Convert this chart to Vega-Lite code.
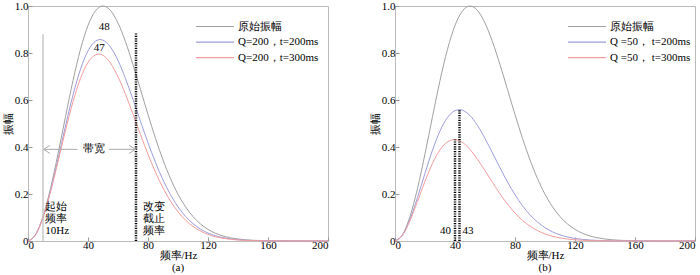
{
  "$schema": "https://vega.github.io/schema/vega-lite/v6.json",
  "padding": {"left": 1, "top": -1, "right": 0, "bottom": 0},
  "spacing": 37,
  "config": {
    "font": "Liberation Serif",
    "view": {"stroke": "#bbbbbb", "strokeWidth": 1},
    "axis": {
      "domain": false, "grid": false, "ticks": true, "tickSize": -4, "tickColor": "#999999",
      "labelFont": "Liberation Serif", "labelFontSize": 11, "labelColor": "#000000",
      "titleFont": "Liberation Serif", "titleFontSize": 11, "titleFontWeight": "normal", "titleColor": "#000000"
    },
    "axisX": {"labelPadding": 2, "titlePadding": -1},
    "axisY": {"labelPadding": 4, "titlePadding": 1},
    "legend": {
      "orient": "none", "title": null, "symbolType": "stroke", "symbolSize": 1444, "symbolStrokeWidth": 1.2,
      "labelFont": "Liberation Serif", "labelFontSize": 11, "labelColor": "#000000", "clipHeight": 13, "labelOffset": 3, "rowPadding": 2.6
    },
    "title": {"font": "Liberation Serif", "fontSize": 11, "fontWeight": "normal", "color": "#000000"}
  },
  "datasets": {
    "curves": [
      {"s":"原始振幅","f":0,"a":0},{"s":"原始振幅","f":5,"a":0.0269},{"s":"原始振幅","f":10,"a":0.1045},{"s":"原始振幅","f":15,"a":0.2236},{"s":"原始振幅","f":20,"a":0.3706},{"s":"原始振幅","f":25,"a":0.5293},{"s":"原始振幅","f":30,"a":0.6827},{"s":"原始振幅","f":35,"a":0.816},{"s":"原始振幅","f":40,"a":0.9173},{"s":"原始振幅","f":45,"a":0.9795},{"s":"原始振幅","f":50,"a":1},{"s":"原始振幅","f":55,"a":0.9808},{"s":"原始振幅","f":60,"a":0.9274},{"s":"原始振幅","f":65,"a":0.8477},{"s":"原始振幅","f":70,"a":0.7505},{"s":"原始振幅","f":75,"a":0.6446},{"s":"原始振幅","f":80,"a":0.5379},{"s":"原始振幅","f":85,"a":0.4366},{"s":"原始振幅","f":90,"a":0.3449},{"s":"原始振幅","f":95,"a":0.2655},{"s":"原始振幅","f":100,"a":0.1991},{"s":"原始振幅","f":105,"a":0.1457},{"s":"原始振幅","f":110,"a":0.104},{"s":"原始振幅","f":115,"a":0.0725},{"s":"原始振幅","f":120,"a":0.0493},{"s":"原始振幅","f":125,"a":0.0328},{"s":"原始振幅","f":130,"a":0.0213},{"s":"原始振幅","f":135,"a":0.0135},{"s":"原始振幅","f":140,"a":0.0084},{"s":"原始振幅","f":145,"a":0.0051},{"s":"原始振幅","f":150,"a":0.003},{"s":"原始振幅","f":160,"a":0.001},{"s":"原始振幅","f":170,"a":0.0003},{"s":"原始振幅","f":180,"a":0.0001},{"s":"原始振幅","f":190,"a":0},{"s":"原始振幅","f":200,"a":0},
      {"s":"Q=200，t=200ms","f":0,"a":0},{"s":"Q=200，t=200ms","f":5,"a":0.0265},{"s":"Q=200，t=200ms","f":10,"a":0.1012},{"s":"Q=200，t=200ms","f":15,"a":0.2133},{"s":"Q=200，t=200ms","f":20,"a":0.348},{"s":"Q=200，t=200ms","f":25,"a":0.4893},{"s":"Q=200，t=200ms","f":30,"a":0.6213},{"s":"Q=200，t=200ms","f":35,"a":0.731},{"s":"Q=200，t=200ms","f":40,"a":0.809},{"s":"Q=200，t=200ms","f":45,"a":0.8504},{"s":"Q=200，t=200ms","f":47,"a":0.8564},{"s":"Q=200，t=200ms","f":48,"a":0.8572},{"s":"Q=200，t=200ms","f":50,"a":0.8546},{"s":"Q=200，t=200ms","f":55,"a":0.8252},{"s":"Q=200，t=200ms","f":60,"a":0.7681},{"s":"Q=200，t=200ms","f":65,"a":0.6911},{"s":"Q=200，t=200ms","f":70,"a":0.6023},{"s":"Q=200，t=200ms","f":75,"a":0.5093},{"s":"Q=200，t=200ms","f":80,"a":0.4184},{"s":"Q=200，t=200ms","f":85,"a":0.3343},{"s":"Q=200，t=200ms","f":90,"a":0.26},{"s":"Q=200，t=200ms","f":95,"a":0.197},{"s":"Q=200，t=200ms","f":100,"a":0.1455},{"s":"Q=200，t=200ms","f":105,"a":0.1048},{"s":"Q=200，t=200ms","f":110,"a":0.0736},{"s":"Q=200，t=200ms","f":115,"a":0.0505},{"s":"Q=200，t=200ms","f":120,"a":0.0338},{"s":"Q=200，t=200ms","f":125,"a":0.0221},{"s":"Q=200，t=200ms","f":130,"a":0.0142},{"s":"Q=200，t=200ms","f":135,"a":0.0089},{"s":"Q=200，t=200ms","f":140,"a":0.0054},{"s":"Q=200，t=200ms","f":145,"a":0.0032},{"s":"Q=200，t=200ms","f":150,"a":0.0019},{"s":"Q=200，t=200ms","f":160,"a":0.0006},{"s":"Q=200，t=200ms","f":170,"a":0.0002},{"s":"Q=200，t=200ms","f":180,"a":0.0001},{"s":"Q=200，t=200ms","f":190,"a":0},{"s":"Q=200，t=200ms","f":200,"a":0},
      {"s":"Q=200，t=300ms","f":0,"a":0},{"s":"Q=200，t=300ms","f":5,"a":0.0263},{"s":"Q=200，t=300ms","f":10,"a":0.0997},{"s":"Q=200，t=300ms","f":15,"a":0.2083},{"s":"Q=200，t=300ms","f":20,"a":0.3373},{"s":"Q=200，t=300ms","f":25,"a":0.4704},{"s":"Q=200，t=300ms","f":30,"a":0.5927},{"s":"Q=200，t=300ms","f":35,"a":0.6919},{"s":"Q=200，t=300ms","f":40,"a":0.7597},{"s":"Q=200，t=300ms","f":45,"a":0.7923},{"s":"Q=200，t=300ms","f":47,"a":0.7955},{"s":"Q=200，t=300ms","f":48,"a":0.795},{"s":"Q=200，t=300ms","f":50,"a":0.7901},{"s":"Q=200，t=300ms","f":55,"a":0.7569},{"s":"Q=200，t=300ms","f":60,"a":0.699},{"s":"Q=200，t=300ms","f":65,"a":0.624},{"s":"Q=200，t=300ms","f":70,"a":0.5396},{"s":"Q=200，t=300ms","f":75,"a":0.4527},{"s":"Q=200，t=300ms","f":80,"a":0.369},{"s":"Q=200，t=300ms","f":85,"a":0.2925},{"s":"Q=200，t=300ms","f":90,"a":0.2257},{"s":"Q=200，t=300ms","f":95,"a":0.1697},{"s":"Q=200，t=300ms","f":100,"a":0.1243},{"s":"Q=200，t=300ms","f":105,"a":0.0888},{"s":"Q=200，t=300ms","f":110,"a":0.062},{"s":"Q=200，t=300ms","f":115,"a":0.0422},{"s":"Q=200，t=300ms","f":120,"a":0.028},{"s":"Q=200，t=300ms","f":125,"a":0.0182},{"s":"Q=200，t=300ms","f":130,"a":0.0115},{"s":"Q=200，t=300ms","f":135,"a":0.0072},{"s":"Q=200，t=300ms","f":140,"a":0.0043},{"s":"Q=200，t=300ms","f":145,"a":0.0026},{"s":"Q=200，t=300ms","f":150,"a":0.0015},{"s":"Q=200，t=300ms","f":160,"a":0.0005},{"s":"Q=200，t=300ms","f":170,"a":0.0001},{"s":"Q=200，t=300ms","f":180,"a":0},{"s":"Q=200，t=300ms","f":190,"a":0},{"s":"Q=200，t=300ms","f":200,"a":0},
      {"s":"Q =50， t=200ms","f":0,"a":0},{"s":"Q =50， t=200ms","f":5,"a":0.0253},{"s":"Q =50， t=200ms","f":10,"a":0.0921},{"s":"Q =50， t=200ms","f":15,"a":0.1852},{"s":"Q =50， t=200ms","f":20,"a":0.2882},{"s":"Q =50， t=200ms","f":25,"a":0.3866},{"s":"Q =50， t=200ms","f":30,"a":0.4683},{"s":"Q =50， t=200ms","f":35,"a":0.5256},{"s":"Q =50， t=200ms","f":40,"a":0.5549},{"s":"Q =50， t=200ms","f":43,"a":0.559},{"s":"Q =50， t=200ms","f":45,"a":0.5564},{"s":"Q =50， t=200ms","f":50,"a":0.5335},{"s":"Q =50， t=200ms","f":55,"a":0.4914},{"s":"Q =50， t=200ms","f":60,"a":0.4363},{"s":"Q =50， t=200ms","f":65,"a":0.3745},{"s":"Q =50， t=200ms","f":70,"a":0.3114},{"s":"Q =50， t=200ms","f":75,"a":0.2512},{"s":"Q =50， t=200ms","f":80,"a":0.1969},{"s":"Q =50， t=200ms","f":85,"a":0.15},{"s":"Q =50， t=200ms","f":90,"a":0.1113},{"s":"Q =50， t=200ms","f":95,"a":0.0805},{"s":"Q =50， t=200ms","f":100,"a":0.0567},{"s":"Q =50， t=200ms","f":105,"a":0.0389},{"s":"Q =50， t=200ms","f":110,"a":0.0261},{"s":"Q =50， t=200ms","f":115,"a":0.0171},{"s":"Q =50， t=200ms","f":120,"a":0.0109},{"s":"Q =50， t=200ms","f":125,"a":0.0068},{"s":"Q =50， t=200ms","f":130,"a":0.0042},{"s":"Q =50， t=200ms","f":135,"a":0.0025},{"s":"Q =50， t=200ms","f":140,"a":0.0014},{"s":"Q =50， t=200ms","f":145,"a":0.0008},{"s":"Q =50， t=200ms","f":150,"a":0.0005},{"s":"Q =50， t=200ms","f":160,"a":0.0001},{"s":"Q =50， t=200ms","f":170,"a":0},{"s":"Q =50， t=200ms","f":180,"a":0},{"s":"Q =50， t=200ms","f":190,"a":0},{"s":"Q =50， t=200ms","f":200,"a":0},
      {"s":"Q =50， t=300ms","f":0,"a":0},{"s":"Q =50， t=300ms","f":5,"a":0.0245},{"s":"Q =50， t=300ms","f":10,"a":0.0865},{"s":"Q =50， t=300ms","f":15,"a":0.1685},{"s":"Q =50， t=300ms","f":20,"a":0.2542},{"s":"Q =50， t=300ms","f":25,"a":0.3304},{"s":"Q =50， t=300ms","f":30,"a":0.3878},{"s":"Q =50， t=300ms","f":35,"a":0.4219},{"s":"Q =50， t=300ms","f":40,"a":0.4316},{"s":"Q =50， t=300ms","f":43,"a":0.4266},{"s":"Q =50， t=300ms","f":45,"a":0.4194},{"s":"Q =50， t=300ms","f":50,"a":0.3897},{"s":"Q =50， t=300ms","f":55,"a":0.3478},{"s":"Q =50， t=300ms","f":60,"a":0.2993},{"s":"Q =50， t=300ms","f":65,"a":0.249},{"s":"Q =50， t=300ms","f":70,"a":0.2006},{"s":"Q =50， t=300ms","f":75,"a":0.1568},{"s":"Q =50， t=300ms","f":80,"a":0.1191},{"s":"Q =50， t=300ms","f":85,"a":0.0879},{"s":"Q =50， t=300ms","f":90,"a":0.0632},{"s":"Q =50， t=300ms","f":95,"a":0.0443},{"s":"Q =50， t=300ms","f":100,"a":0.0302},{"s":"Q =50， t=300ms","f":105,"a":0.0201},{"s":"Q =50， t=300ms","f":110,"a":0.0131},{"s":"Q =50， t=300ms","f":115,"a":0.0083},{"s":"Q =50， t=300ms","f":120,"a":0.0051},{"s":"Q =50， t=300ms","f":125,"a":0.0031},{"s":"Q =50， t=300ms","f":130,"a":0.0018},{"s":"Q =50， t=300ms","f":135,"a":0.0011},{"s":"Q =50， t=300ms","f":140,"a":0.0006},{"s":"Q =50， t=300ms","f":145,"a":0.0003},{"s":"Q =50， t=300ms","f":150,"a":0.0002},{"s":"Q =50， t=300ms","f":160,"a":0},{"s":"Q =50， t=300ms","f":170,"a":0},{"s":"Q =50， t=300ms","f":180,"a":0},{"s":"Q =50， t=300ms","f":190,"a":0},{"s":"Q =50， t=300ms","f":200,"a":0}
    ],
    "greyRule": [{"f": 10, "a": 0, "a2": 0.88}],
    "dotA": [{"f": 72, "a": 0, "a2": 0.885}],
    "dotB": [{"f": 40, "a": 0, "a2": 0.432}, {"f": 43, "a": 0, "a2": 0.56}],
    "bandLines": [{"f": 10.5, "f2": 33, "a": 0.39}, {"f": 54, "f2": 72, "a": 0.39}],
    "arrowHeads": [{"f": 10.5, "a": 0.39, "dir": "L"}, {"f": 71.5, "a": 0.39, "dir": "R"}],
    "peakLabels": [{"f": 50.9, "a": 0.911, "t": "48"}, {"f": 47.5, "a": 0.823, "t": "47"}],
    "midLabel": [{"f": 44.3, "a": 0.39, "t": "带宽"}],
    "blockLabels": [{"f": 11.5, "a": 0.17, "t": "起始\n频率\n10Hz"}, {"f": 76.5, "a": 0.172, "t": "改变\n截止\n频率"}],
    "labLeft": [{"f": 37.3, "a": 0.043, "t": "40"}],
    "labRight": [{"f": 45, "a": 0.043, "t": "43"}]
  },
  "resolve": {"scale": {"color": "independent"}, "legend": {"color": "independent"}},
  "hconcat": [
    {
      "width": 300, "height": 235,
      "title": {"text": "(a)", "orient": "bottom", "offset": 1.5},
      "layer": [
        {
          "data": {"name": "curves"},
          "transform": [{"filter": {"field": "s", "oneOf": ["原始振幅", "Q=200，t=200ms", "Q=200，t=300ms"]}}],
          "mark": {"type": "line", "interpolate": "monotone", "strokeWidth": 1},
          "encoding": {
            "x": {"field": "f", "type": "quantitative", "scale": {"domain": [0, 200], "nice": false},
                  "axis": {"title": "频率/Hz", "values": [0,20,40,60,80,100,120,140,160,180,200], "labelExpr": "datum.value % 40 == 0 ? datum.label : ''"}},
            "y": {"field": "a", "type": "quantitative", "scale": {"domain": [0, 1], "nice": false},
                  "axis": {"title": "振幅", "values": [0,0.1,0.2,0.3,0.4,0.5,0.6,0.7,0.8,0.9,1.0], "labelExpr": "datum.value == 0 ? '0' : (round(datum.value*10) % 2 == 0 ? format(datum.value, '.1f') : '')"}},
            "color": {"field": "s", "type": "nominal",
                      "scale": {"domain": ["原始振幅", "Q=200，t=200ms", "Q=200，t=300ms"], "range": ["#a0a0a0", "#9c9cdc", "#f59c9c"]},
                      "legend": {"legendX": 167, "legendY": 14}}
          }
        },
        {
          "data": {"name": "greyRule"},
          "mark": {"type": "rule", "color": "#bbbbbb", "strokeWidth": 1.2},
          "encoding": {"x": {"field": "f", "type": "quantitative"}, "y": {"field": "a", "type": "quantitative"}, "y2": {"field": "a2"}}
        },
        {
          "data": {"name": "dotA"},
          "mark": {"type": "rule", "color": "#000000", "strokeWidth": 2.5, "strokeDash": [1.2, 1.2]},
          "encoding": {"x": {"field": "f", "type": "quantitative"}, "y": {"field": "a", "type": "quantitative"}, "y2": {"field": "a2"}}
        },
        {
          "data": {"name": "bandLines"},
          "mark": {"type": "rule", "color": "#aaaaaa", "strokeWidth": 1},
          "encoding": {"x": {"field": "f", "type": "quantitative"}, "x2": {"field": "f2"}, "y": {"field": "a", "type": "quantitative"}}
        },
        {
          "data": {"name": "arrowHeads"},
          "mark": {"type": "point", "filled": false, "strokeWidth": 1, "color": "#aaaaaa", "opacity": 1, "size": 16},
          "encoding": {
            "x": {"field": "f", "type": "quantitative"},
            "y": {"field": "a", "type": "quantitative"},
            "shape": {"field": "dir", "type": "nominal", "scale": {"domain": ["L", "R"], "range": ["M3,-2L0,0L3,2", "M-3,-2L0,0L-3,2"]}, "legend": null}
          }
        },
        {
          "data": {"name": "peakLabels"},
          "mark": {"type": "text", "fontSize": 11, "font": "Liberation Serif", "color": "#000000", "align": "center", "baseline": "middle"},
          "encoding": {"x": {"field": "f", "type": "quantitative"}, "y": {"field": "a", "type": "quantitative"}, "text": {"field": "t"}}
        },
        {
          "data": {"name": "midLabel"},
          "mark": {"type": "text", "fontSize": 11, "font": "Liberation Serif", "color": "#000000", "align": "center", "baseline": "middle"},
          "encoding": {"x": {"field": "f", "type": "quantitative"}, "y": {"field": "a", "type": "quantitative"}, "text": {"field": "t"}}
        },
        {
          "data": {"name": "blockLabels"},
          "mark": {"type": "text", "fontSize": 11, "font": "Liberation Serif", "color": "#000000", "align": "left", "baseline": "top", "lineBreak": "\n", "lineHeight": 12},
          "encoding": {"x": {"field": "f", "type": "quantitative"}, "y": {"field": "a", "type": "quantitative"}, "text": {"field": "t"}}
        }
      ]
    },
    {
      "width": 300, "height": 235,
      "title": {"text": "(b)", "orient": "bottom", "offset": 1.5},
      "layer": [
        {
          "data": {"name": "curves"},
          "transform": [{"filter": {"field": "s", "oneOf": ["原始振幅", "Q =50， t=200ms", "Q =50， t=300ms"]}}],
          "mark": {"type": "line", "interpolate": "monotone", "strokeWidth": 1},
          "encoding": {
            "x": {"field": "f", "type": "quantitative", "scale": {"domain": [0, 200], "nice": false},
                  "axis": {"title": "频率/Hz", "values": [0,20,40,60,80,100,120,140,160,180,200], "labelExpr": "datum.value % 40 == 0 ? datum.label : ''"}},
            "y": {"field": "a", "type": "quantitative", "scale": {"domain": [0, 1], "nice": false},
                  "axis": {"title": "振幅", "values": [0,0.1,0.2,0.3,0.4,0.5,0.6,0.7,0.8,0.9,1.0], "labelExpr": "datum.value == 0 ? '0' : (round(datum.value*10) % 2 == 0 ? format(datum.value, '.1f') : '')"}},
            "color": {"field": "s", "type": "nominal",
                      "scale": {"domain": ["原始振幅", "Q =50， t=200ms", "Q =50， t=300ms"], "range": ["#a0a0a0", "#9c9cdc", "#f59c9c"]},
                      "legend": {"legendX": 172, "legendY": 14}}
          }
        },
        {
          "data": {"name": "dotB"},
          "mark": {"type": "rule", "color": "#000000", "strokeWidth": 2.5, "strokeDash": [1.2, 1.2]},
          "encoding": {"x": {"field": "f", "type": "quantitative"}, "y": {"field": "a", "type": "quantitative"}, "y2": {"field": "a2"}}
        },
        {
          "data": {"name": "labLeft"},
          "mark": {"type": "text", "fontSize": 11, "font": "Liberation Serif", "color": "#000000", "align": "right", "baseline": "middle"},
          "encoding": {"x": {"field": "f", "type": "quantitative"}, "y": {"field": "a", "type": "quantitative"}, "text": {"field": "t"}}
        },
        {
          "data": {"name": "labRight"},
          "mark": {"type": "text", "fontSize": 11, "font": "Liberation Serif", "color": "#000000", "align": "left", "baseline": "middle"},
          "encoding": {"x": {"field": "f", "type": "quantitative"}, "y": {"field": "a", "type": "quantitative"}, "text": {"field": "t"}}
        }
      ]
    }
  ]
}
